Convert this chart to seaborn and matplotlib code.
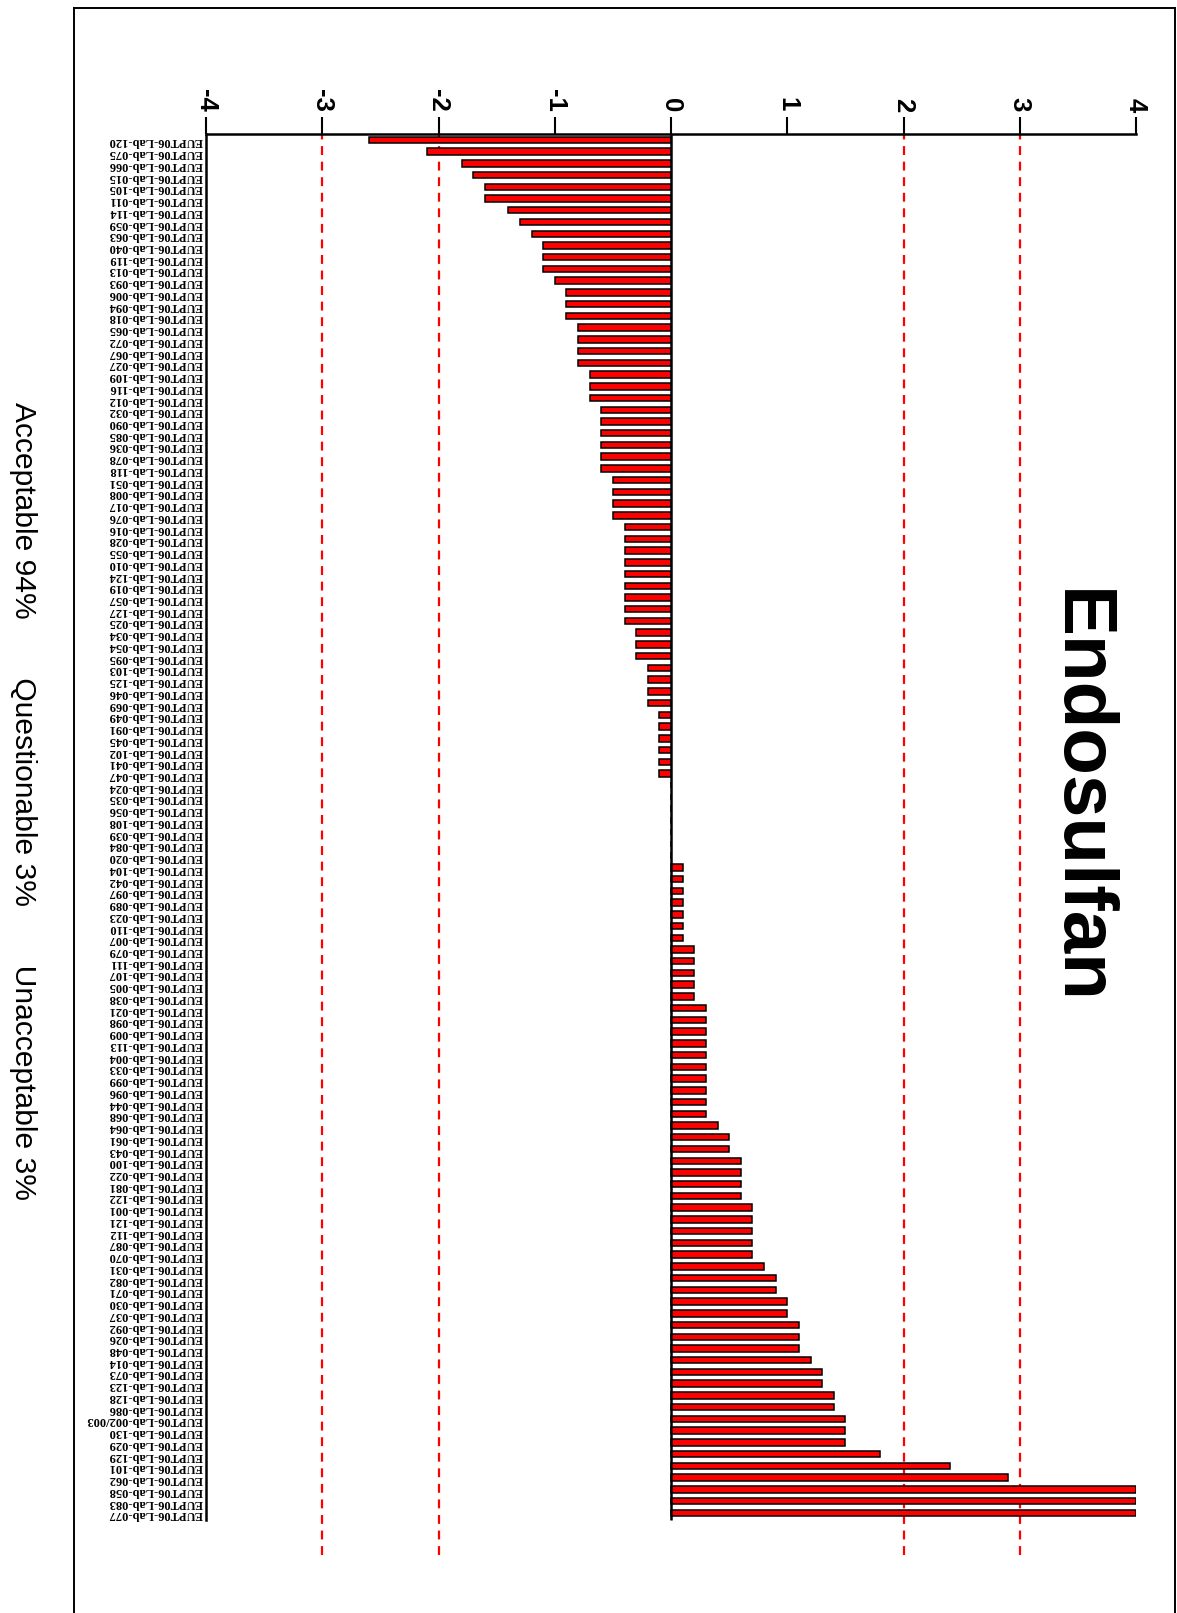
import matplotlib
matplotlib.use("Agg")
import matplotlib.pyplot as plt
import seaborn as sns
import pandas as pd
from matplotlib.lines import Line2D

# ---------------- data ----------------
lab_ids = ["120", "075", "066", "015", "105", "011", "114", "059", "063", "040",
           "119", "013", "093", "006", "094", "018", "065", "072", "067", "027",
           "109", "116", "012", "032", "090", "085", "036", "078", "118", "051",
           "008", "017", "076", "016", "028", "055", "010", "124", "019", "057",
           "127", "025", "034", "054", "095", "103", "125", "046", "069", "049",
           "091", "045", "102", "041", "047", "024", "035", "056", "108", "039",
           "084", "020", "104", "042", "097", "089", "023", "110", "007", "079",
           "111", "107", "005", "038", "021", "098", "009", "113", "004", "033",
           "099", "096", "044", "068", "064", "061", "043", "100", "022", "081",
           "122", "001", "121", "112", "087", "070", "031", "082", "071", "030",
           "037", "092", "026", "048", "014", "073", "123", "128", "086", "002/003",
           "130", "029", "129", "101", "062", "058", "083", "077"]
labels = ["EUPT06-Lab-" + s for s in lab_ids]

z_scores = [-2.6, -2.1, -1.8, -1.7, -1.6, -1.6, -1.4, -1.3, -1.2, -1.1,
            -1.1, -1.1, -1.0, -0.9, -0.9, -0.9, -0.8, -0.8, -0.8, -0.8,
            -0.7, -0.7, -0.7, -0.6, -0.6, -0.6, -0.6, -0.6, -0.6, -0.5,
            -0.5, -0.5, -0.5, -0.4, -0.4, -0.4, -0.4, -0.4, -0.4, -0.4,
            -0.4, -0.4, -0.3, -0.3, -0.3, -0.2, -0.2, -0.2, -0.2, -0.1,
            -0.1, -0.1, -0.1, -0.1, -0.1, 0.0, 0.0, 0.0, 0.0, 0.0,
            0.0, 0.0, 0.1, 0.1, 0.1, 0.1, 0.1, 0.1, 0.1, 0.2,
            0.2, 0.2, 0.2, 0.2, 0.3, 0.3, 0.3, 0.3, 0.3, 0.3,
            0.3, 0.3, 0.3, 0.3, 0.4, 0.5, 0.5, 0.6, 0.6, 0.6,
            0.6, 0.7, 0.7, 0.7, 0.7, 0.7, 0.8, 0.9, 0.9, 1.0,
            1.0, 1.1, 1.1, 1.1, 1.2, 1.3, 1.3, 1.4, 1.4, 1.5,
            1.5, 1.5, 1.8, 2.4, 2.9, 4.0, 4.0, 4.0]

x_ticks = [-4, -3, -2, -1, 0, 1, 2, 3, 4]
x_tick_labels = ["-4", "-3", "-2", "-1", "0", "1", "2", "3", "4"]
limit_lines = [-3, -2, 2, 3]
title = "Endosulfan"
summary = "Acceptable 94%       Questionable 3%       Unacceptable 3%"

df = pd.DataFrame({"lab": labels, "z": z_scores})

# ---------------- figure ----------------
W, H = 1177, 1613
fig = plt.figure(figsize=(W / 100, H / 100), dpi=100)
fig.patch.set_facecolor("white")

ax = fig.add_axes([206 / W, 1 - 1555 / H, (1136 - 206) / W, (1555 - 134) / H])
sns.barplot(data=df, x="z", y="lab", orient="h", color="red", saturation=1,
            edgecolor="black", linewidth=1.1, width=0.55, errorbar=None, ax=ax)

n = len(labels)
ax.set_xlim(-4, 4)
ax.set_ylim(n + 2.6, -0.5)
ax.set_xlabel("")
ax.set_ylabel("")

# dashed limit lines
for v in limit_lines:
    ax.axvline(v, color="red", linestyle=(0, (4, 3)), linewidth=1.6, zorder=0)

# zero line
ax.vlines(0, -0.5, n - 0.4, color="black", linewidth=1.8, zorder=3)

# spines
for s in ["right", "bottom"]:
    ax.spines[s].set_visible(False)
ax.spines["top"].set_linewidth(1.8)
ax.spines["left"].set_linewidth(1.8)
ax.spines["left"].set_bounds(n - 0.4, -0.5)

# x axis on top
ax.xaxis.tick_top()
ax.set_xticks(x_ticks)
ax.set_xticklabels(x_tick_labels, rotation=-90, fontsize=18.5,
                   fontweight="bold", family="Liberation Sans")
ax.tick_params(axis="x", direction="out", length=12, width=1.5, pad=4)

# y tick labels upside down
ax.tick_params(axis="y", length=0, pad=2)
for t in ax.get_yticklabels():
    t.set_rotation(180)
    t.set_fontsize(9.0)
    t.set_fontweight("bold")
    t.set_family("Liberation Serif")

# title and summary text
fig.text(1078 / W, 1 - 797 / H, title, rotation=-90, fontsize=55,
         fontweight="bold", family="Liberation Sans", ha="center", va="center")
fig.text(23 / W, 1 - 801 / H, summary, rotation=-90, fontsize=21.6,
         family="Liberation Sans", ha="center", va="center")

# outer frame
lw = 1.4
fig.add_artist(Line2D([74 / W, 74 / W], [0, 1 - 8 / H], color="black", linewidth=lw))
fig.add_artist(Line2D([74 / W, 1175 / W], [1 - 8 / H, 1 - 8 / H], color="black", linewidth=lw))
fig.add_artist(Line2D([1175 / W, 1175 / W], [0, 1 - 8 / H], color="black", linewidth=lw))

fig.savefig("out.png", dpi=100, facecolor="white")
